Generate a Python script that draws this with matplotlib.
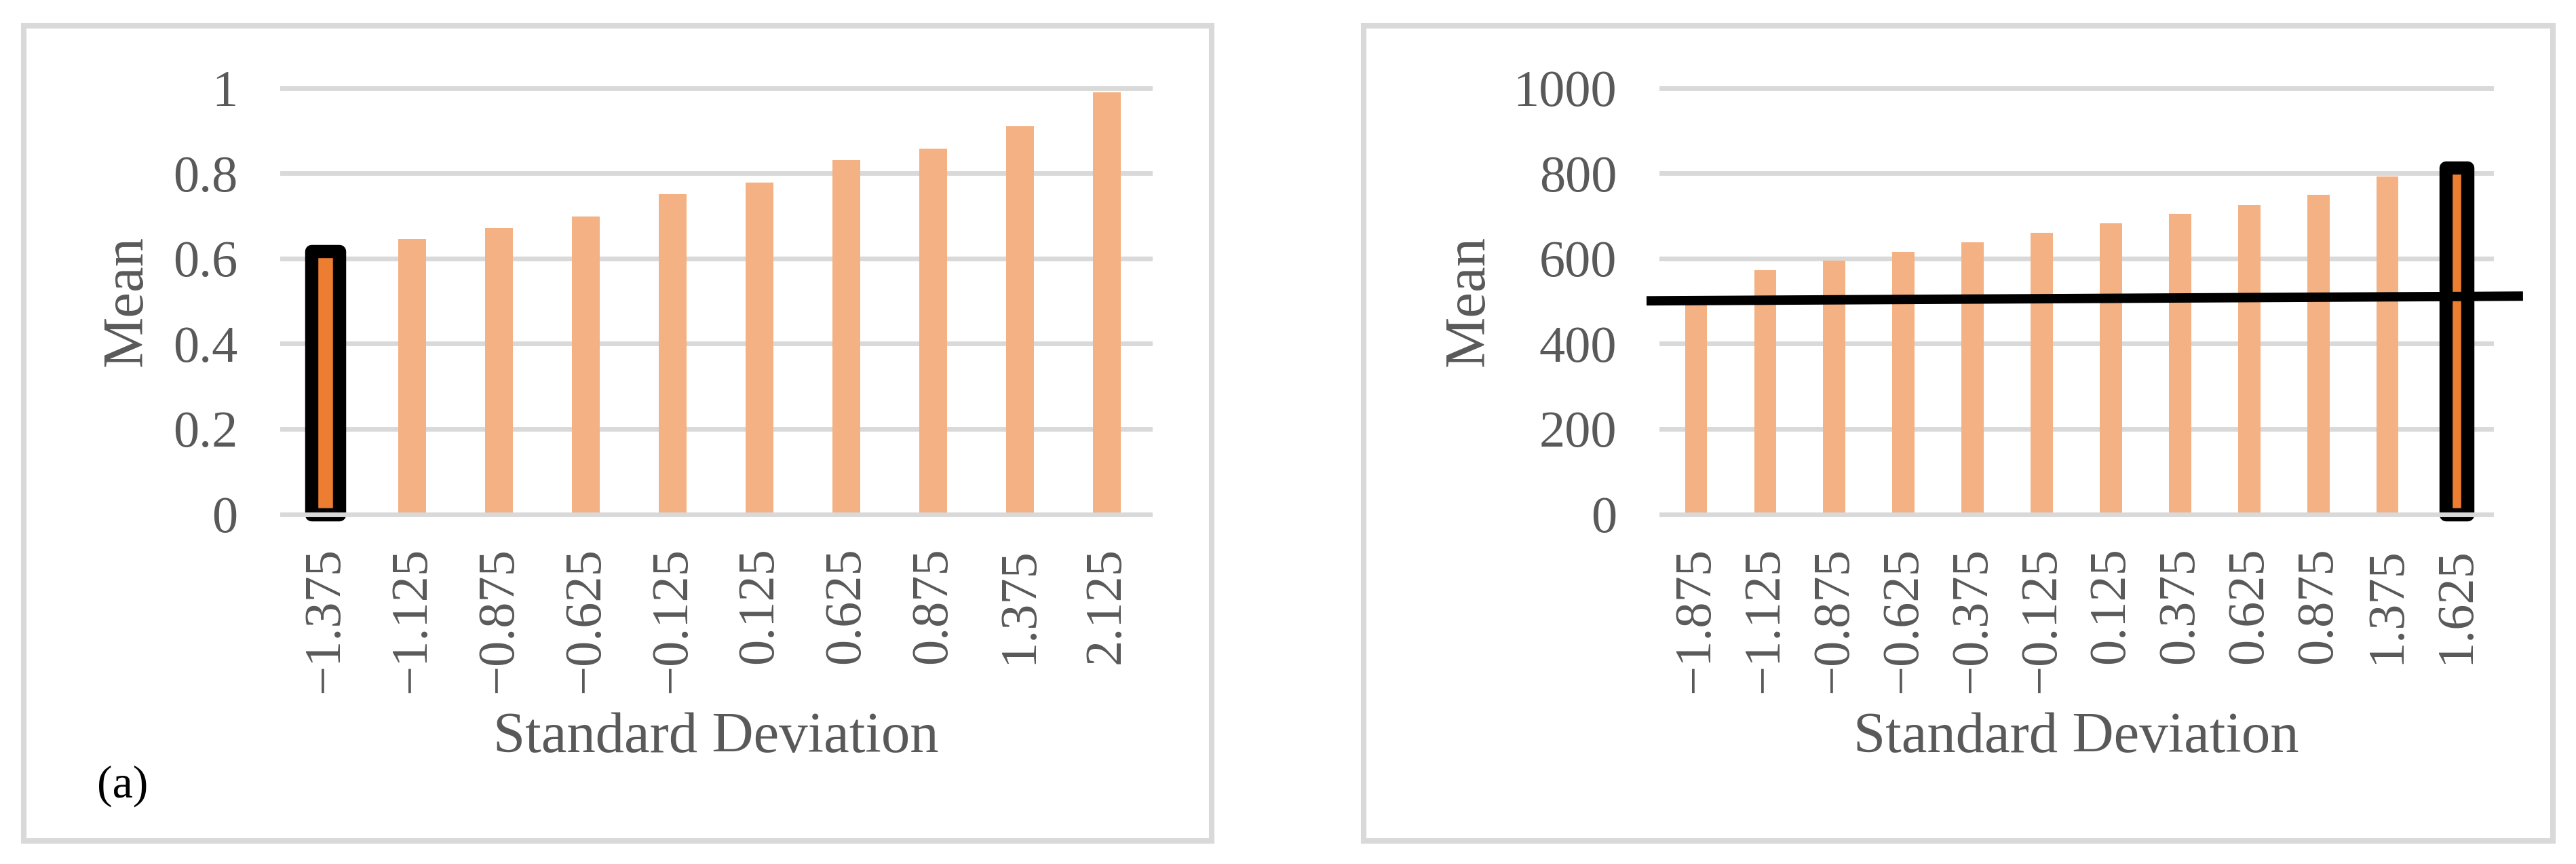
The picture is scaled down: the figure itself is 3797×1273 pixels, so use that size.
import matplotlib
matplotlib.use("Agg")
import matplotlib.pyplot as plt
from matplotlib.patches import Rectangle

plt.rcParams['font.family'] = ['Liberation Serif', 'DejaVu Serif']

# ---------------- data ----------------
left_sd = ["−1.375", "−1.125", "−0.875", "−0.625", "−0.125",
           "0.125", "0.625", "0.875", "1.375", "2.125"]
left_mean = [0.617, 0.645, 0.671, 0.698, 0.751, 0.778, 0.830, 0.857, 0.910, 0.990]
left_highlight = 0
left_yticks = [0, 0.2, 0.4, 0.6, 0.8, 1.0]
left_yticklabels = ["0", "0.2", "0.4", "0.6", "0.8", "1"]

right_sd = ["−1.875", "−1.125", "−0.875", "−0.625", "−0.375", "−0.125",
            "0.125", "0.375", "0.625", "0.875", "1.375", "1.625"]
right_mean = [500, 572, 594, 616, 638, 660, 682, 704, 726, 749, 792, 813]
right_highlight = 11
right_yticks = [0, 200, 400, 600, 800, 1000]
right_yticklabels = ["0", "200", "400", "600", "800", "1000"]

# reference line drawn across the right panel (category units, mean units)
ref_line_x = [-0.716, 11.96]
ref_line_y = [500.4, 511.5]

panel_tag = "(a)"
x_label = "Standard Deviation"
y_label = "Mean"

# ---------------- style ----------------
BAR = "#F4B183"
BAR_HI = "#ED7D31"
GRID = "#D9D9D9"
TXT = "#595959"
W, H = 3797, 1273
DPI = 100

fig = plt.figure(figsize=(W / DPI, H / DPI), dpi=DPI)

def px_to_fig(x0, x1, ytop, ybot):
    return [x0 / W, 1 - ybot / H, (x1 - x0) / W, (ybot - ytop) / H]

ax_l = fig.add_axes(px_to_fig(416, 1695, 129.5, 757.5))
ax_r = fig.add_axes(px_to_fig(2449, 3672, 129.5, 757.5))

def draw_panel(ax, cats, vals, hi, yticks, yticklabels, ymax, ylab_x):
    x = list(range(len(cats)))
    colors = [BAR_HI if i == hi else BAR for i in x]
    edges = ["black" if i == hi else "none" for i in x]
    lws = [14 if i == hi else 0 for i in x]
    bars = ax.bar(x, vals, width=0.32, color=colors, edgecolor=edges,
                  linewidth=lws, zorder=3)
    for b in bars:
        b.set_joinstyle("round")
        b.set_clip_on(False)
    ax.set_xlim(-0.5, len(cats) - 0.5)
    ax.set_ylim(0, ymax)
    ax.set_yticks(yticks)
    ax.set_yticklabels(yticklabels)
    ax.set_xticks(x)
    ax.set_xticklabels(cats, rotation=90, va="top", ha="center")
    ax.tick_params(axis="y", length=0, pad=47.5, labelsize=55, labelcolor=TXT)
    ax.tick_params(axis="x", length=0, pad=35, labelsize=55, labelcolor=TXT)
    for s in ax.spines.values():
        s.set_visible(False)
    # gridlines
    for yv in yticks:
        ax.axhline(yv, color=GRID, linewidth=5.0, clip_on=False,
                   zorder=5 if yv == 0 else 1)
    ax.set_ylabel(y_label, fontsize=61, color=TXT)
    ax.yaxis.set_label_coords(ylab_x, 0.5)
    ax.yaxis.label.set_va("center")
    ax.set_xlabel(x_label, fontsize=61, color=TXT)
    ax.xaxis.set_label_coords(0.5, -0.526)
    ax.xaxis.label.set_va("center")

draw_panel(ax_l, left_sd, left_mean, left_highlight, left_yticks,
           left_yticklabels, 1.0, -0.178)
draw_panel(ax_r, right_sd, right_mean, right_highlight, right_yticks,
           right_yticklabels, 1000, -0.231)

ax_r.plot(ref_line_x, ref_line_y, color="black", linewidth=10,
          solid_capstyle="butt", clip_on=False, zorder=6)

# panel frames
for x0, x1 in [(35, 1786), (2010.5, 3762.5)]:
    fig.patches.append(Rectangle((x0 / W, 1 - 1239 / H), (x1 - x0) / W,
                                 (1239 - 38) / H, transform=fig.transFigure,
                                 fill=False, edgecolor=GRID, linewidth=5.8))

fig.text(143 / W, 1 - 1158 / H, panel_tag, fontsize=49, color="black",
         ha="left", va="center")

fig.savefig("out.png", dpi=DPI, facecolor="white")
